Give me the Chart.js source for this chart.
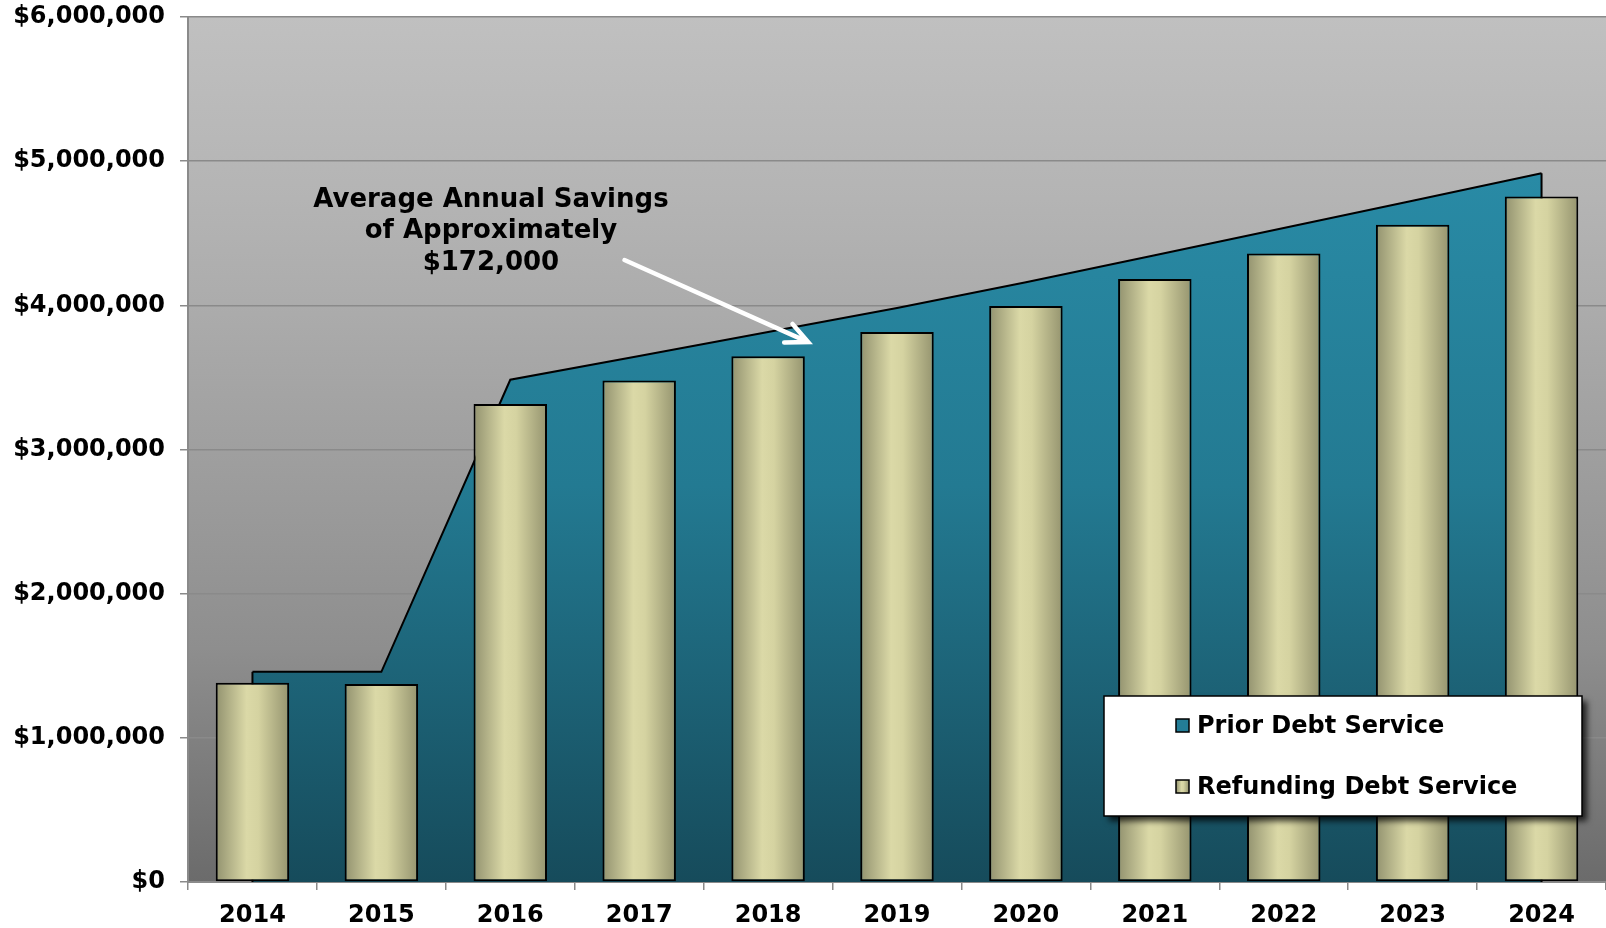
<!DOCTYPE html>
<html>
<head>
<meta charset="utf-8">
<script src="https://cdn.jsdelivr.net/npm/chart.js@4"></script>
<style>
  html, body { margin: 0; padding: 0; background: #ffffff; }
  #wrap { width: 1606px; height: 928px; }
</style>
</head>
<body>
<div id="wrap"><canvas id="debtChart" width="1606" height="928"></canvas></div>
<script>
const years = ["2014", "2015", "2016", "2017", "2018", "2019", "2020", "2021", "2022", "2023", "2024"];
const priorDebtService = [1458000, 1458000, 3484000, 3648000, 3815000, 3981000, 4160000, 4348000, 4537000, 4726000, 4916000];
const refundingDebtService = [1382000, 1373000, 3315000, 3478000, 3646000, 3815000, 3996000, 4182000, 4360000, 4559000, 4755000];
const yMin = 0;
const yMax = 6000000;
const yStep = 1000000;
const noteLines = ["Average Annual Savings", "of Approximately", "$172,000"];

const FONT = '"DejaVu Sans", Verdana, sans-serif';

function barGradient(ctx, x0, x1) {
  const g = ctx.createLinearGradient(x0, 0, x1, 0);
  g.addColorStop(0, "#92926f");
  g.addColorStop(0.42, "#dbd9a7");
  g.addColorStop(0.58, "#d5d3a1");
  g.addColorStop(1, "#95946f");
  return g;
}

function areaGradient(chart) {
  const { ctx, chartArea } = chart;
  const y = chart.scales.y;
  const g = ctx.createLinearGradient(0, y.getPixelForValue(5000000), 0, chartArea.bottom);
  g.addColorStop(0, "#298ba6");
  g.addColorStop(0.45, "#237a92");
  g.addColorStop(1, "#164b5b");
  return g;
}

const decor = {
  id: "decor",
  beforeDraw(chart) {
    const { ctx, chartArea: a } = chart;
    const g = ctx.createLinearGradient(0, a.top, 0, a.bottom);
    g.addColorStop(0, "#c0c0c0");
    g.addColorStop(0.21, "#b4b4b4");
    g.addColorStop(0.33, "#acacac");
    g.addColorStop(0.73, "#8e8e8e");
    g.addColorStop(1, "#6b6b6b");
    ctx.save();
    ctx.fillStyle = g;
    ctx.fillRect(a.left, a.top, a.right - a.left, a.bottom - a.top);
    ctx.restore();
  },
  afterDatasetDraw(chart, args) {
    if (args.index !== 0) return;
    // closing edges of the prior debt service area
    const pts = args.meta.data;
    const base = chart.scales.y.getPixelForValue(0);
    const ctx = chart.ctx;
    ctx.save();
    ctx.strokeStyle = "#000000";
    ctx.lineWidth = 2;
    [pts[0], pts[pts.length - 1]].forEach(p => {
      ctx.beginPath();
      ctx.moveTo(p.x, p.y);
      ctx.lineTo(p.x, base);
      ctx.stroke();
    });
    ctx.restore();
  },
  afterDraw(chart) {
    const { ctx, chartArea: a } = chart;
    const xs = chart.scales.x;
    const ys = chart.scales.y;

    // savings note
    ctx.save();
    ctx.font = "bold 26px " + FONT;
    ctx.fillStyle = "#000000";
    ctx.textAlign = "center";
    ctx.textBaseline = "middle";
    const nx = xs.getPixelForValue(1.85);
    const ny = ys.getPixelForValue(4732000);
    noteLines.forEach((t, i) => ctx.fillText(t, nx, ny + i * 31.7));

    // arrow
    const sx = xs.getPixelForValue(2.886), sy = ys.getPixelForValue(4314000);
    const tx = xs.getPixelForValue(4.311), ty = ys.getPixelForValue(3745000);
    const ang = Math.atan2(sy - ty, sx - tx);
    ctx.strokeStyle = "#ffffff";
    ctx.lineWidth = 4.5;
    ctx.lineCap = "round";
    ctx.beginPath();
    ctx.moveTo(sx, sy);
    ctx.lineTo(tx, ty);
    ctx.moveTo(tx + 24 * Math.cos(ang - 0.44), ty + 24 * Math.sin(ang - 0.44));
    ctx.lineTo(tx, ty);
    ctx.lineTo(tx + 24 * Math.cos(ang + 0.44), ty + 24 * Math.sin(ang + 0.44));
    ctx.stroke();
    ctx.restore();

    // legend box
    const bw = 478, bh = 120;
    const bx = a.right - 24 - bw, by = a.bottom - 66 - bh;
    ctx.save();
    ctx.shadowColor = "rgba(0,0,0,0.75)";
    ctx.shadowOffsetX = 5;
    ctx.shadowOffsetY = 5;
    ctx.shadowBlur = 6;
    ctx.fillStyle = "#ffffff";
    ctx.fillRect(bx, by, bw, bh);
    ctx.restore();
    ctx.save();
    ctx.strokeStyle = "#000000";
    ctx.lineWidth = 1.5;
    ctx.strokeRect(bx, by, bw, bh);
    ctx.font = "bold 24px " + FONT;
    ctx.textBaseline = "middle";
    ctx.textAlign = "left";
    chart.data.datasets.forEach((ds, i) => {
      const cy = by + 30 + i * 61;
      const sqx = bx + 72;
      ctx.fillStyle = i === 0 ? "#237d97" : barGradient(ctx, sqx, sqx + 13);
      ctx.fillRect(sqx, cy - 7, 13, 13);
      ctx.lineWidth = 1.5;
      ctx.strokeStyle = "#000000";
      ctx.strokeRect(sqx, cy - 7, 13, 13);
      ctx.fillStyle = "#000000";
      ctx.fillText(ds.label, sqx + 21, cy + 1);
    });
    ctx.restore();
  }
};

new Chart(document.getElementById("debtChart"), {
  data: {
    labels: years,
    datasets: [
      {
        type: "line",
        label: "Prior Debt Service",
        data: priorDebtService,
        order: 2,
        fill: "origin",
        tension: 0,
        borderColor: "#000000",
        borderWidth: 2,
        pointRadius: 0,
        backgroundColor: c => c.chart.chartArea ? areaGradient(c.chart) : "#237d97"
      },
      {
        type: "bar",
        label: "Refunding Debt Service",
        data: refundingDebtService,
        order: 1,
        borderColor: "#000000",
        borderWidth: 2,
        borderSkipped: false,
        categoryPercentage: 0.57,
        barPercentage: 1,
        backgroundColor: c => {
          const ch = c.chart;
          if (!ch.chartArea) return "#d5d3a1";
          const cx = ch.scales.x.getPixelForValue(c.dataIndex);
          const half = (ch.chartArea.right - ch.chartArea.left) / years.length * 0.57 / 2;
          return barGradient(ch.ctx, cx - half, cx + half);
        }
      }
    ]
  },
  options: {
    responsive: false,
    animation: false,
    devicePixelRatio: 1,
    layout: { padding: { top: 17, right: 0, left: 0, bottom: 0 } },
    plugins: { legend: { display: false }, tooltip: { enabled: false } },
    scales: {
      x: {
        type: "category",
        offset: true,
        grid: { offset: true, drawOnChartArea: false, drawTicks: true, tickLength: 8, color: "#8a8a8a", lineWidth: 1.5 },
        border: { color: "#8a8a8a", width: 2 },
        ticks: { color: "#000000", padding: 11, font: { family: FONT, size: 24, weight: "bold" }, maxRotation: 0 },
        afterFit: s => { s.height = 46; s.paddingLeft = 0; s.paddingRight = 0; }
      },
      y: {
        min: yMin,
        max: yMax,
        grid: { color: "#8a8a8a", lineWidth: 1.5, tickLength: 8 },
        border: { color: "#8a8a8a", width: 2 },
        ticks: {
          stepSize: yStep,
          color: "#000000",
          padding: 15,
          font: { family: FONT, size: 24, weight: "bold" },
          callback: v => "$" + Number(v).toLocaleString("en-US")
        },
        afterFit: s => { s.width = 188; s.paddingTop = 0; s.paddingBottom = 0; }
      }
    }
  },
  plugins: [decor]
});
</script>
</body>
</html>
